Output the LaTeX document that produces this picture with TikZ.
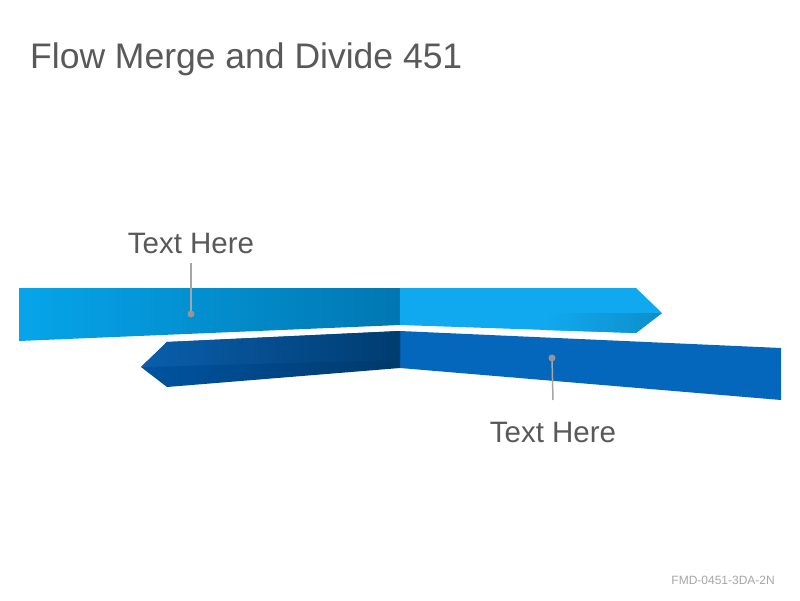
\documentclass[tikz,border=0pt]{standalone}
\usepackage{fontspec}
\setmainfont{Liberation Sans}
\definecolor{txtgray}{HTML}{595959}
\definecolor{leadgray}{HTML}{A6A6A6}
\definecolor{skyA}{HTML}{06A5EA}
\definecolor{skyB}{HTML}{0077B2}
\definecolor{skyC}{HTML}{10A9EF}
\definecolor{skyD}{HTML}{0E8ECB}
\definecolor{navyA}{HTML}{0A5EAC}
\definecolor{navyB}{HTML}{003C70}
\definecolor{navyC}{HTML}{0054A2}
\definecolor{navyD}{HTML}{00396A}
\definecolor{royal}{HTML}{0567BC}
\tikzset{
  labeltext/.style={font=\fontsize{29.5}{34}\selectfont,text=txtgray,inner sep=0pt,anchor=base},
  leader/.style={draw=leadgray,line width=1.5pt},
  dotmark/.style={circle,fill=leadgray!90!black,inner sep=0pt,minimum size=7pt}
}
\begin{document}
\begin{tikzpicture}[x=1pt,y=-1pt]
        \useasboundingbox[fill=white](0,0)rectangle(800,600);
        \node[anchor=base west,font=\fontsize{35.5}{40}\selectfont,text=txtgray,inner sep=0pt](title)at(30,68){Flow Merge and Divide 451};
        \node[anchor=base east,font=\fontsize{12}{14}\selectfont,text=leadgray,inner sep=0pt](code)at(775,584){FMD-0451-3DA-2N};

        % upper band, running right
        \shade[left color=skyA,right color=skyB](19,288)--(400,288)--(400,325)--(19,341)--cycle;
        \fill[skyC](400,288)--(636,288)--(662,313)--(636,333)--(400,325)--cycle;
        \shade[left color=skyC,right color=skyD](545,313)--(662,313)--(636,333)--(545,330)--cycle;

        % lower band, running left
        \fill[royal](400,331)--(781,348)--(781,400)--(400,368)--cycle;
        \shade[left color=navyC,right color=navyD](141,367)--(167,342)--(400,331)--(400,368)--(167,387)--cycle;
        \shade[left color=navyA,right color=navyB](141,367)--(167,342)--(400,331)--(400,360)--cycle;

        % labels
        \node[labeltext](toplabel)at(191,253){Text Here};
        \coordinate(topdot)at(191,314);
        \draw[leader]([yshift=-10pt]toplabel.base)--(topdot);
        \node[dotmark]at(topdot){};

        \node[labeltext](botlabel)at(553,442){Text Here};
        \coordinate(botdot)at(552,358);
        \draw[leader](botdot)--([yshift=42pt]botlabel.base);
        \node[dotmark]at(botdot){};
    \end{tikzpicture}
\end{document}
